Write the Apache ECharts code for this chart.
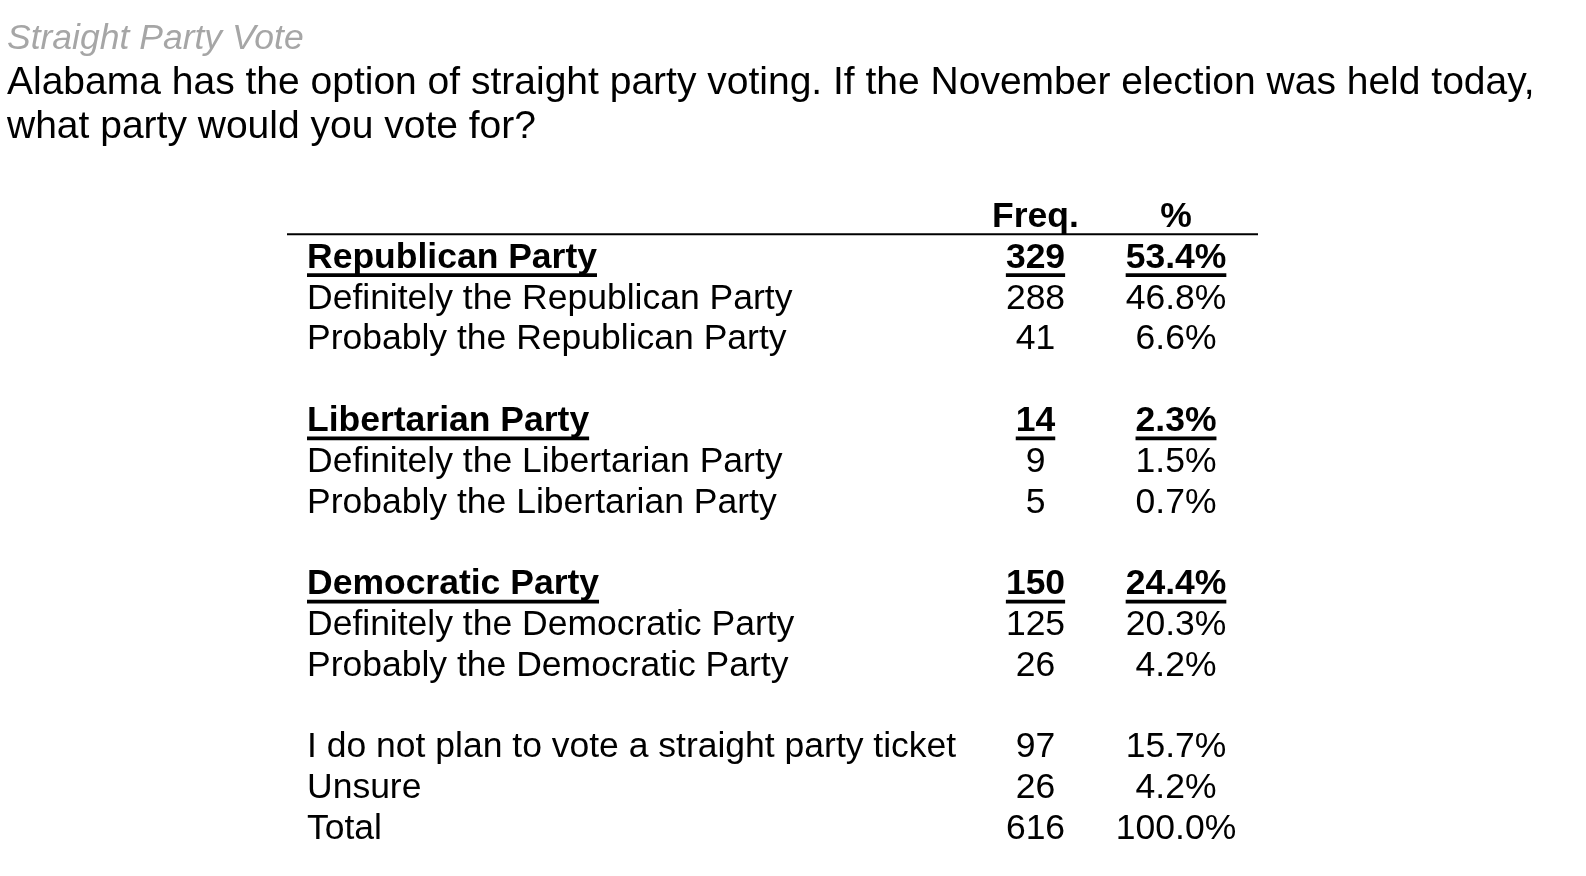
<!DOCTYPE html>
<html>
<head>
<meta charset="utf-8">
<script src="https://cdn.jsdelivr.net/npm/echarts@6/dist/echarts.min.js"></script>
<style>
html,body{margin:0;padding:0;background:#fff;}
#chart{width:1586px;height:876px;}
</style>
</head>
<body>
<div id="chart"></div>
<script>
// ---- data ----
const TITLE = 'Straight Party Vote';
const QUESTION = [
  'Alabama has the option of straight party voting. If the November election was held today,',
  'what party would you vote for?'
];
const COLUMN_HEADERS = ['Freq.', '%'];
const ROW_LABELS = [
  'Republican Party',
  'Definitely the Republican Party',
  'Probably the Republican Party',
  '',
  'Libertarian Party',
  'Definitely the Libertarian Party',
  'Probably the Libertarian Party',
  '',
  'Democratic Party',
  'Definitely the Democratic Party',
  'Probably the Democratic Party',
  '',
  'I do not plan to vote a straight party ticket',
  'Unsure',
  'Total'
];
const FREQ = [329, 288, 41, null, 14, 9, 5, null, 150, 125, 26, null, 97, 26, 616];
const PCT = [53.4, 46.8, 6.6, null, 2.3, 1.5, 0.7, null, 24.4, 20.3, 4.2, null, 15.7, 4.2, 100.0];
const SUBTOTAL_ROWS = [0, 4, 8];

// ---- layout ----
const FONT_FAMILY = '"Liberation Sans", Arial, sans-serif';
const TABLE_FONT = 35.5;
const GRID_W = 971;
const COL_LABEL_X = 20;
const COL_FREQ_X = 748.5;
const COL_PCT_X = 889;

const measureCtx = document.createElement('canvas').getContext('2d');
function textWidth(s, bold) {
  measureCtx.font = (bold ? 'bold ' : '') + TABLE_FONT + 'px ' + FONT_FAMILY;
  return measureCtx.measureText(s).width;
}

const ROW_KEYS = ['header'].concat(ROW_LABELS.map((_, i) => 'row' + i));
const cellData = ROW_KEYS.map((_, r) => [0, r]);

function renderItem(params, api) {
  const r = api.value(1);
  const band = api.size([0, 1])[1];
  const p0 = api.coord([0, r]);
  const y = p0[1];
  const xL = api.coord([COL_LABEL_X, r])[0];
  const xF = api.coord([COL_FREQ_X, r])[0];
  const xP = api.coord([COL_PCT_X, r])[0];
  const xEnd = api.coord([GRID_W, r])[0];
  const children = [];
  function txt(s, x, align, bold) {
    children.push({
      type: 'text',
      x: x, y: y,
      style: {
        text: s, fill: '#000',
        fontSize: TABLE_FONT, fontFamily: FONT_FAMILY,
        fontWeight: bold ? 'bold' : 'normal',
        align: align, verticalAlign: 'middle'
      }
    });
  }
  function underline(s, x, align) {
    const w = textWidth(s, true);
    const left = align === 'center' ? x - w / 2 : x;
    children.push({
      type: 'rect',
      shape: { x: left, y: y + 15.3, width: w, height: 3.8 },
      style: { fill: '#000' }
    });
  }
  if (r === 0) {
    txt(COLUMN_HEADERS[0], xF, 'center', true);
    txt(COLUMN_HEADERS[1], xP, 'center', true);
    children.push({
      type: 'rect',
      shape: { x: p0[0], y: y + band / 2 - 4.3, width: xEnd - p0[0], height: 2 },
      style: { fill: '#000' }
    });
  } else {
    const i = r - 1;
    if (ROW_LABELS[i]) {
      const bold = SUBTOTAL_ROWS.indexOf(i) >= 0;
      const f = String(FREQ[i]);
      const p = PCT[i].toFixed(1) + '%';
      txt(ROW_LABELS[i], xL, 'left', bold);
      txt(f, xF, 'center', bold);
      txt(p, xP, 'center', bold);
      if (bold) {
        underline(ROW_LABELS[i], xL, 'left');
        underline(f, xF, 'center');
        underline(p, xP, 'center');
      }
    }
  }
  return { type: 'group', children: children };
}

const chart = echarts.init(document.getElementById('chart'), null, { renderer: 'canvas' });
chart.setOption({
  backgroundColor: '#fff',
  animation: false,
  title: [
    {
      text: TITLE, left: 7, top: 19.5, padding: 0,
      textStyle: { fontStyle: 'italic', fontWeight: 'normal', fontSize: 35.5, lineHeight: 40,
        fontFamily: FONT_FAMILY, color: '#a6a6a6' }
    },
    {
      text: QUESTION.join('\n'), left: 7, top: 61.5, padding: 0,
      textStyle: { fontWeight: 'normal', fontSize: 39, lineHeight: 44,
        fontFamily: FONT_FAMILY, color: '#000' }
    }
  ],
  grid: { left: 287, width: GRID_W, top: 196.8, bottom: 26.4, containLabel: false },
  xAxis: { type: 'value', min: 0, max: GRID_W, show: false },
  yAxis: { type: 'category', inverse: true, data: ROW_KEYS, show: false },
  series: [{
    type: 'custom',
    silent: true,
    renderItem: renderItem,
    encode: { x: 0, y: 1 },
    data: cellData
  }]
});
</script>
</body>
</html>
